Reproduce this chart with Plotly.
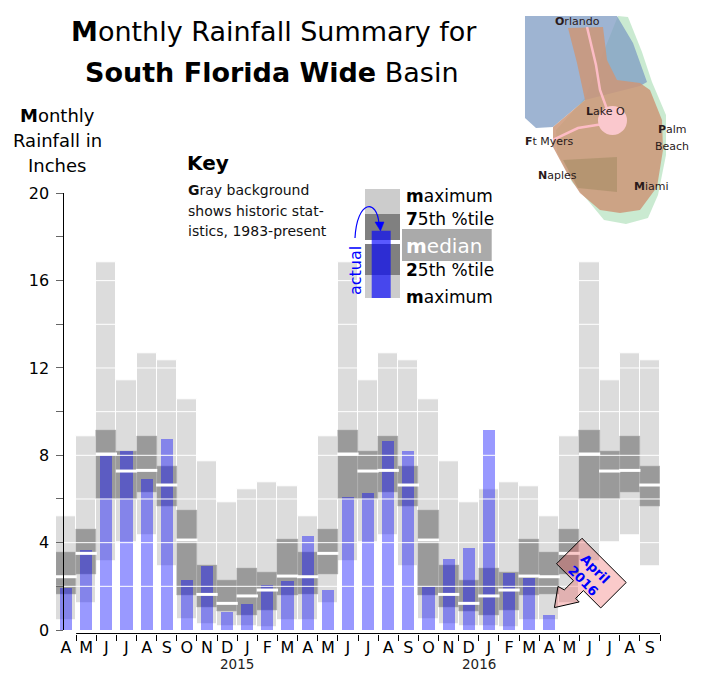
import math
import plotly.graph_objects as go

# ---- data ----
month_labels = ["A", "M", "J", "J", "A", "S", "O", "N", "D",
                "J", "F", "M", "A", "M", "J", "J", "A", "S", "O", "N", "D",
                "J", "F", "M", "A", "M", "J", "J", "A", "S"]
first_month = 3  # April (0 = January)
year_labels = ["2015", "2016"]

# historic statistics 1983-present, Jan..Dec (inches)
hist_max = [6.44, 6.75, 6.56, 5.19, 8.89, 16.82, 11.45, 12.67, 12.35, 10.58, 7.71, 5.83]
hist_q75 = [2.81, 2.63, 4.15, 3.55, 4.61, 9.13, 8.17, 8.85, 7.48, 5.47, 2.98, 2.29]
hist_med = [1.56, 1.83, 2.47, 2.44, 3.51, 8.06, 7.28, 7.31, 6.64, 4.12, 1.63, 1.22]
hist_q25 = [0.69, 0.92, 1.60, 1.62, 2.56, 6.00, 6.00, 6.32, 5.65, 1.57, 1.04, 0.84]
hist_min = [0.15, 0.12, 0.43, 0.43, 1.22, 3.13, 4.02, 4.35, 2.93, 0.49, 0.26, 0.15]

# actual monthly rainfall, Apr 2014 .. Apr 2016
actual = [1.89, 3.63, 7.99, 8.18, 6.92, 8.75, 2.29, 2.90, 0.81, 1.19, 2.06, 2.21,
          4.31, 1.83, 6.09, 6.26, 8.63, 8.20, 1.94, 3.25, 3.76, 9.16, 2.60, 2.37, 0.69]

y_ticks = [0, 4, 8, 12, 16, 20]
y_minor = [2, 6, 10, 14, 18]

# ---- helpers ----
W, H = 701, 698
FONT = "DejaVu Sans"


def px(x):
    return x / W


def py(y):
    return 1 - y / H


def poly(pts):
    s = "M " + " L ".join(f"{px(x):.5f},{py(y):.5f}" for x, y in pts)
    return s + " Z"


def note(text, x, y, size, color="black", xanchor="center", **kw):
    # text placed in page pixels
    return dict(x=px(x), y=py(y), xref="paper", yref="paper", text=text, showarrow=False,
                xanchor=xanchor, yanchor="middle", font=dict(size=size, color=color), **kw)


n = len(month_labels)
xs = list(range(n))
cal = [(first_month + i) % 12 for i in xs]
mx = [hist_max[c] for c in cal]
q75 = [hist_q75[c] for c in cal]
med = [hist_med[c] for c in cal]
q25 = [hist_q25[c] for c in cal]
mn = [hist_min[c] for c in cal]

fig = go.Figure()

fig.add_trace(go.Bar(x=xs, y=[a - b for a, b in zip(mx, mn)], base=mn, width=1,
                     marker=dict(color="#dcdcdc", line=dict(color="white", width=1)),
                     hoverinfo="skip"))
fig.add_trace(go.Bar(x=xs, y=[a - b for a, b in zip(q75, q25)], base=q25, width=1,
                     marker=dict(color="#9a9a9a", line=dict(color="#b0b0b0", width=0.5)),
                     hoverinfo="skip"))

# white grid lines every 2 inches, over the gray but under the blue
gx, gy = [], []
for v in range(2, 20, 2):
    gx += [-0.5, n - 0.5, None]
    gy += [v, v, None]
fig.add_trace(go.Scatter(x=gx, y=gy, mode="lines", line=dict(color="white", width=1),
                         hoverinfo="skip"))

fig.add_trace(go.Bar(x=xs[:len(actual)], y=actual, width=0.6,
                     marker=dict(color="rgba(0,0,255,0.4)", line=dict(width=0)),
                     hoverinfo="skip"))

mxs, mys = [], []
for i, m in zip(xs, med):
    mxs += [i - 0.53, i + 0.53, None]
    mys += [m, m, None]
fig.add_trace(go.Scatter(x=mxs, y=mys, mode="lines", line=dict(color="white", width=3),
                         hoverinfo="skip"))

shapes = []
ann = []

# x axis base line
shapes.append(dict(type="line", xref="x", yref="paper", x0=0.5, x1=n - 0.5,
                   y0=py(633.5), y1=py(633.5), line=dict(color="black", width=1)))

# year labels at the January boundary
jan_idx = [i for i in xs if cal[i] == 0]
for yl, i in zip(year_labels, jan_idx):
    ann.append(dict(x=i - 0.5, y=py(664), xref="x", yref="paper", text=yl,
                    showarrow=False, xanchor="center", yanchor="middle",
                    font=dict(size=13.5, color="#222")))

# titles
ann.append(note("<b>M</b>onthly Rainfall Summary for", 274, 31, 27))
ann.append(note("<b>South Florida Wide</b> Basin", 272, 72, 27))
for t, yy in [("<b>M</b>onthly", 115), ("Rainfall in", 140), ("Inches", 166)]:
    ann.append(note(t, 57, yy, 18))

# key
ann.append(note("<b>Key</b>", 185, 163, 20, xanchor="left"))
for t, yy in [("<b>G</b>ray background", 190), ("shows historic stat-", 210.5),
              ("istics, 1983-present", 231)]:
    ann.append(note(t, 186, yy, 14, "#111", xanchor="left"))

# key graphic
shapes += [
    dict(type="rect", xref="paper", yref="paper", x0=px(365), x1=px(400), y0=py(189), y1=py(298),
         fillcolor="#cccccc", line=dict(width=0)),
    dict(type="rect", xref="paper", yref="paper", x0=px(365), x1=px(400), y0=py(214), y1=py(275),
         fillcolor="#808080", line=dict(width=0)),
    dict(type="rect", xref="paper", yref="paper", x0=px(365), x1=px(400), y0=py(240), y1=py(244),
         fillcolor="white", line=dict(width=0)),
    dict(type="rect", xref="paper", yref="paper", x0=px(371.7), x1=px(390.7), y0=py(230.7), y1=py(298),
         fillcolor="rgba(0,0,255,0.65)", line=dict(width=0)),
    dict(type="rect", xref="paper", yref="paper", x0=px(402), x1=px(491.7), y0=py(229), y1=py(261),
         fillcolor="#aaaaaa", line=dict(width=0)),
    dict(type="path", xref="paper", yref="paper",
         path=f"M {px(355):.5f},{py(238):.5f} C {px(357):.5f},{py(200):.5f} "
              f"{px(377):.5f},{py(198):.5f} {px(379):.5f},{py(224):.5f}",
         line=dict(color="blue", width=1.2)),
    dict(type="path", xref="paper", yref="paper", path=poly([(375, 222), (384, 222), (380.5, 231)]),
         fillcolor="blue", line=dict(color="blue", width=0.5)),
]
for t, yy, c, s in [("<b>m</b>aximum", 196.5, "black", 17), ("<b>7</b>5th %tile", 219, "black", 17),
                    ("<b>m</b>edian", 245.5, "white", 20), ("<b>2</b>5th %tile", 270.5, "black", 17),
                    ("<b>m</b>aximum", 296.5, "black", 17)]:
    ann.append(note(t, 404, yy, s, c, xanchor="left"))
ann.append(note("actual", 355, 271, 16, "blue", textangle=-90))

# "April 2016" arrow, built in a frame rotated by 45 degrees
ox, oy = 582.0, 538.3
r = math.sqrt(0.5)


def rot(u, v):
    return (ox + r * (u - v), oy + r * (u + v))


arrow_uv = [(0, 0), (62.5, 0), (62.5, 36), (38, 36), (38, 47), (43, 47), (29.5, 68.5),
            (17, 51), (24, 49), (24, 36), (0, 36)]
shapes.append(dict(type="path", xref="paper", yref="paper", layer="above",
                   path=poly([rot(u, v) for u, v in arrow_uv]),
                   fillcolor="rgba(240,80,80,0.3)", line=dict(color="black", width=1)))
ax_, ay_ = rot(31, 20.8)
ann.append(note("<b>April<br>2016</b>", ax_, ay_, 13, "blue", textangle=45))

# inset map (rough sketch of the basin)
coast = [(618, 16), (628, 17), (642, 52), (652, 82), (666, 115), (666, 155), (658, 195),
         (648, 218), (626, 224), (604, 220), (590, 203), (572, 182), (557, 152), (556, 130),
         (585, 98)]
blue_area = [(525, 16), (617, 16), (633, 43), (647, 82), (640, 86), (585, 100), (553, 127),
             (536, 128), (525, 118)]
brown_area = [(568, 28), (603, 27), (607, 60), (617, 80), (640, 83), (650, 90), (662, 120),
              (663, 150), (657, 187), (640, 210), (620, 213), (600, 210), (580, 193),
              (567, 173), (553, 147), (553, 127), (585, 100), (577, 63)]
cypress = [(563, 160), (617, 157), (617, 192), (578, 188)]
shapes += [
    dict(type="path", xref="paper", yref="paper", path=poly(coast),
         fillcolor="rgba(180,225,190,0.7)", line=dict(width=0)),
    dict(type="path", xref="paper", yref="paper", path=poly(blue_area),
         fillcolor="rgba(125,155,195,0.75)", line=dict(width=0)),
    dict(type="path", xref="paper", yref="paper", path=poly(brown_area),
         fillcolor="rgba(205,150,120,0.85)", line=dict(width=0)),
    dict(type="path", xref="paper", yref="paper", path=poly(cypress),
         fillcolor="rgba(130,120,70,0.3)", line=dict(width=0)),
    dict(type="path", xref="paper", yref="paper",
         path=f"M {px(587):.5f},{py(27):.5f} L {px(596):.5f},{py(65):.5f} "
              f"L {px(600):.5f},{py(90):.5f} L {px(608):.5f},{py(112):.5f}",
         line=dict(color="rgba(255,190,200,0.95)", width=2.5)),
    dict(type="path", xref="paper", yref="paper",
         path=f"M {px(603):.5f},{py(124):.5f} L {px(578):.5f},{py(128):.5f} "
              f"L {px(553):.5f},{py(140):.5f}",
         line=dict(color="rgba(255,190,200,0.95)", width=2.5)),
    dict(type="circle", xref="paper", yref="paper", x0=px(598), x1=px(627), y0=py(106), y1=py(135),
         fillcolor="rgba(250,200,205,1)", line=dict(width=0)),
]
for t, x, y in [("<b>O</b>rlando", 577, 21), ("<b>L</b>ake O", 605, 111), ("<b>F</b>t Myers", 549, 141),
                ("<b>P</b>alm", 672, 130), ("Beach", 672, 146), ("<b>N</b>aples", 557, 176),
                ("<b>M</b>iami", 651, 186)]:
    ann.append(note(t, x, y, 11, "#2a1a1a"))

fig.update_layout(
    width=W, height=H,
    margin=dict(l=0, r=0, t=0, b=0, autoexpand=False),
    paper_bgcolor="white", plot_bgcolor="rgba(0,0,0,0)",
    barmode="overlay", showlegend=False, bargap=0,
    font=dict(family=FONT, color="black"),
    shapes=shapes, annotations=ann,
    xaxis=dict(range=[-0.5, n - 0.5], domain=[px(56), px(660)], anchor="free", automargin=False,
               position=py(633.5), showline=False, showgrid=False, zeroline=False,
               tickmode="array", tickvals=xs, ticktext=month_labels, ticks="",
               tickfont=dict(size=16, color="black"), ticklabelstandoff=2,
               minor=dict(tickmode="array", tickvals=[i + 0.5 for i in xs], ticks="outside",
                          ticklen=6, tickcolor="black", showgrid=False)),
    yaxis=dict(range=[0, 20], domain=[py(630), py(193.3)], anchor="free", position=px(63.3),
               automargin=False,
               showline=True, linecolor="black", linewidth=1, showgrid=False, zeroline=False,
               tickmode="array", tickvals=y_ticks, ticks="outside", ticklen=7, tickcolor="#666",
               tickfont=dict(size=16, color="black"), ticklabelstandoff=4,
               minor=dict(tickmode="array", tickvals=y_minor, ticks="outside", ticklen=7,
                          tickcolor="#666", showgrid=False)),
)

fig.write_html("out.html", config={"displayModeBar": False},
               post_script="document.body.style.margin='0';"
                           "document.body.style.overflow='hidden';")
